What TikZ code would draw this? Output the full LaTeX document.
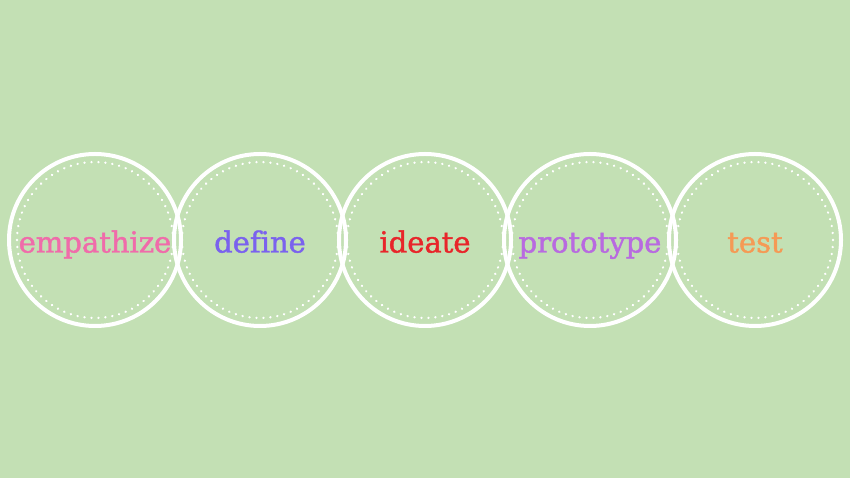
\documentclass[tikz,border=0pt]{standalone}
\usepackage{fontspec}
\setmainfont[Ligatures=NoCommon,BoldFont={DejaVu Serif},BoldFeatures={FakeBold=1.5}]{DejaVu Serif}
\definecolor{bg}{HTML}{C3E0B4}
\definecolor{cpink}{HTML}{F06BAA}
\definecolor{cblue}{HTML}{7A62EE}
\definecolor{cred}{HTML}{E8252A}
\definecolor{cpurple}{HTML}{B86AE0}
\definecolor{corange}{HTML}{F59A55}
\begin{document}
\begin{tikzpicture}[x=1pt,y=1pt,
  ring/.style={circle,draw=white,line width=4pt,minimum size=172pt,inner sep=0pt},
  dotring/.style={draw=white,line width=2.5pt,line cap=round,dash pattern=on 0.1pt off 6.9pt},
  word/.style={font=\fontsize{29}{34}\selectfont\bfseries,inner sep=0pt,anchor=base}]
\fill[bg] (0,0) rectangle (850,478);
\useasboundingbox (0,0) rectangle (850,478);
\foreach \n/\x in {a/95,b/260,c/425,d/590,e/755}{
  \node[ring] (\n) at (\x,238) {};
  \draw[dotring] (\n.center) circle (78);
}
\node[word,text=cpink] (ta) at ([yshift=-12.5pt]a.center) {empathize};
\node[word,text=cblue] (tb) at ([yshift=-12.5pt]b.center) {define};
\node[word,text=cred] (tc) at ([yshift=-12.5pt]c.center) {ideate};
\node[word,text=cpurple] (td) at ([yshift=-12.5pt]d.center) {prototype};
\node[word,text=corange] (te) at ([yshift=-12.5pt]e.center) {test};
\end{tikzpicture}
\end{document}
